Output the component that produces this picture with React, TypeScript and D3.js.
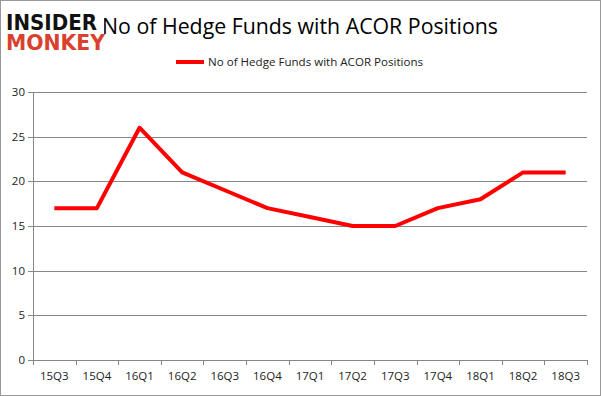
import React from 'react';
import * as d3 from 'd3';

const quarters = ['15Q3', '15Q4', '16Q1', '16Q2', '16Q3', '16Q4', '17Q1', '17Q2', '17Q3', '17Q4', '18Q1', '18Q2', '18Q3'];
const funds = [17, 17, 26, 21, 19, 17, 16, 15, 15, 17, 18, 21, 21];
const yTicks = [0, 5, 10, 15, 20, 25, 30];

const seriesName = 'No of Hedge Funds with ACOR Positions';

const App = () => {
  const width = 601;
  const height = 396;
  // plot area
  const plot = { left: 33, right: 587, top: 92, bottom: 360 };
  const font = 'Open Sans, Noto Sans, sans-serif';

  const xScale = d3.scaleBand().domain(quarters).range([plot.left, plot.right]);
  const yScale = d3.scaleLinear().domain([0, 30]).range([plot.bottom, plot.top]);

  const line = d3
    .line<number>()
    .x((d, i) => (xScale(quarters[i]) as number) + xScale.bandwidth() / 2)
    .y((d) => yScale(d));

  const bandEdges = quarters.map((q) => xScale(q) as number).concat([plot.right]);

  return (
    <div style={{ position: 'fixed', left: 0, top: 0 }}>
      <svg width={width} height={height} style={{ display: 'block' }}>
        <rect x={0.5} y={0.5} width={width - 1} height={height - 1} fill="#fff" stroke="#999" />

        {/* grid lines */}
        {yTicks.slice(1).map((t) => (
          <line key={t} x1={plot.left} x2={plot.right} y1={Math.round(yScale(t)) + 0.5} y2={Math.round(yScale(t)) + 0.5} stroke="#868686" strokeWidth={1} />
        ))}

        {/* y axis */}
        <line x1={plot.left + 0.5} x2={plot.left + 0.5} y1={plot.top} y2={plot.bottom} stroke="#868686" />
        {yTicks.map((t) => (
          <g key={t}>
            <line x1={plot.left - 5} x2={plot.left} y1={Math.round(yScale(t)) + 0.5} y2={Math.round(yScale(t)) + 0.5} stroke="#868686" />
            <text x={plot.left - 8} y={yScale(t)} dy="0.35em" textAnchor="end" fontFamily={font} fontSize={11.5} fill="#222">
              {t}
            </text>
          </g>
        ))}

        {/* x axis */}
        <line x1={plot.left} x2={plot.right} y1={plot.bottom + 0.5} y2={plot.bottom + 0.5} stroke="#868686" />
        {bandEdges.map((x, i) => (
          <line key={i} x1={Math.round(x) + 0.5} x2={Math.round(x) + 0.5} y1={plot.bottom} y2={plot.bottom + 5} stroke="#868686" />
        ))}
        {quarters.map((q) => (
          <text key={q} x={(xScale(q) as number) + xScale.bandwidth() / 2} y={plot.bottom + 20} textAnchor="middle" fontFamily={font} fontSize={11.5} fill="#222">
            {q}
          </text>
        ))}

        {/* series */}
        <path d={line(funds) || ''} fill="none" stroke="#ff0000" strokeWidth={4} strokeLinejoin="round" />

        {/* title */}
        <text x={300} y={34} textAnchor="middle" fontFamily={font} fontSize={21} fill="#000" textLength={396} lengthAdjust="spacingAndGlyphs">
          {seriesName}
        </text>

        {/* legend */}
        <line x1={176} x2={204} y1={62} y2={62} stroke="#ff0000" strokeWidth={4} />
        <text x={208} y={62} dy="0.35em" fontFamily={font} fontSize={11.5} fill="#222" textLength={215} lengthAdjust="spacingAndGlyphs">
          {seriesName}
        </text>

        {/* logo */}
        <rect x={4} y={6} width={100} height={46} fill="#fff" />
        <text fontFamily="DejaVu Sans, sans-serif" fontWeight="bold" fontSize={22}>
          <tspan x={6} y={30} fill="#111" textLength={91} lengthAdjust="spacingAndGlyphs">INSIDER</tspan>
          <tspan x={6} y={50} fill="#d9412e" textLength={99} lengthAdjust="spacingAndGlyphs">MONKEY</tspan>
        </text>
      </svg>
    </div>
  );
};

export default App;
